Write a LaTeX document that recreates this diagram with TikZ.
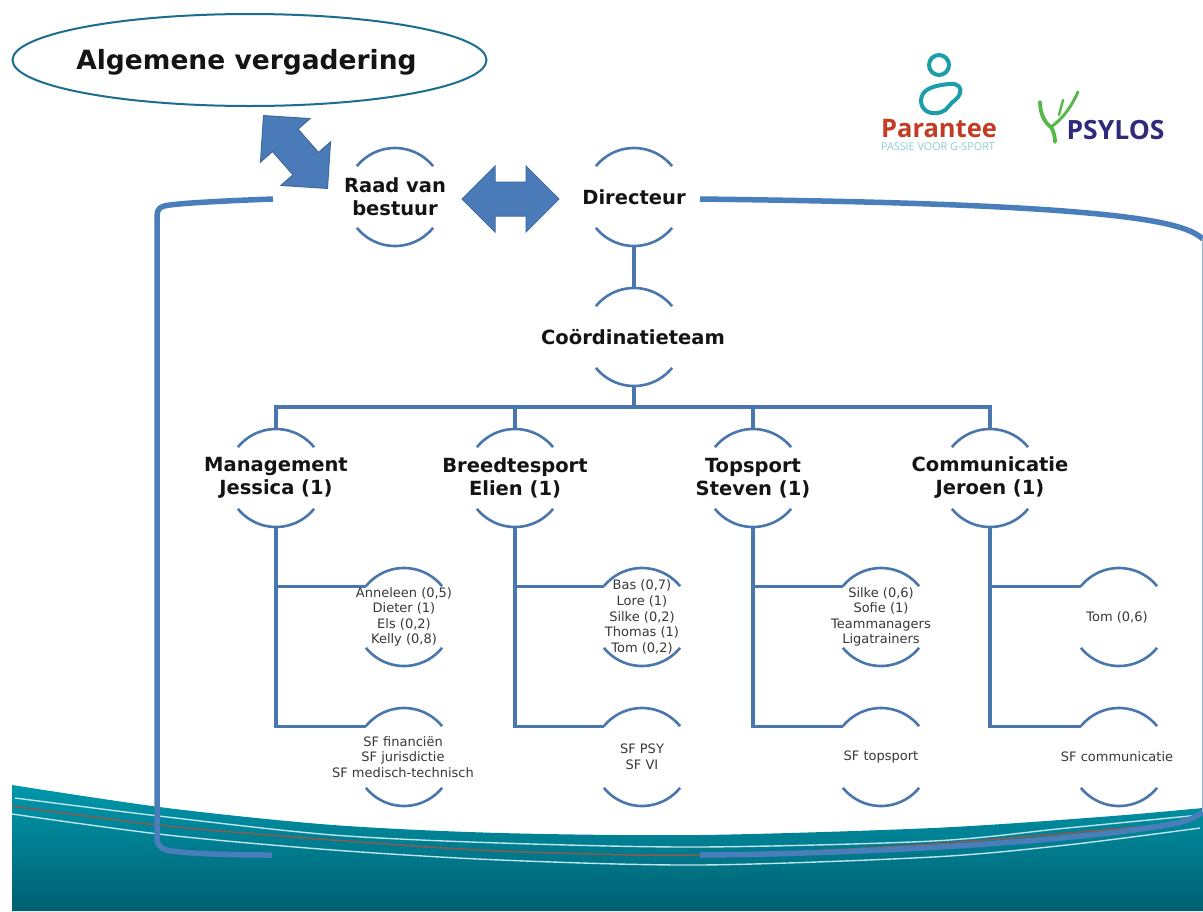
\documentclass[tikz,border=0pt]{standalone}
\usepackage{fontspec}
\setmainfont{DejaVu Sans}
\newfontfamily\logofont{Open Sans}
\usetikzlibrary{shapes.geometric,shapes.arrows,calc}
\definecolor{orgblue}{HTML}{4A76AE}
\definecolor{thickblue}{HTML}{4A7EBB}
\definecolor{arrowblue}{HTML}{4A7BB8}
\definecolor{arrowedge}{HTML}{3F6A9C}
\definecolor{ellipseedge}{HTML}{1B6E8E}
\definecolor{wavetop}{HTML}{0098AC}
\definecolor{wavebottom}{HTML}{005F70}
\definecolor{wavebrown}{HTML}{8A5A50}
\definecolor{leaftext}{HTML}{383838}
\definecolor{logoteal}{HTML}{1B9DAA}
\definecolor{logored}{HTML}{C23B22}
\definecolor{logolight}{HTML}{8CCDD3}
\definecolor{logogreen}{HTML}{55B848}
\definecolor{logonavy}{HTML}{2F2A7C}
\tikzset{
  x=1pt,y=1pt,
  ringbase/.style={circle,minimum size=98pt,inner sep=0pt,outer sep=0pt},
  headtext/.style={font=\fontsize{19.5}{23}\selectfont\bfseries,align=center,inner sep=0pt,text=black!92},
  leaftxt/.style={font=\fontsize{13}{15.6}\selectfont,align=center,inner sep=0pt,text=leaftext},
  ringarc/.style={draw=orgblue,line width=2.6pt},
  link/.style={draw=orgblue,line width=3.2pt},
  fatarrow/.style={double arrow,draw=arrowedge,line width=1pt,fill=arrowblue,
    minimum height=97pt,minimum width=65pt,inner sep=16.5pt,
    double arrow head extend=16pt,double arrow head indent=0pt},
  thickline/.style={draw=thickblue,line width=5.5pt},
  waveline/.style={draw=white!75!wavetop,line width=1.4pt},
}
% name, position, text style, text x-offset, text
\newcommand{\orgunit}[5]{%
  \node[ringbase] (#1) at (#2) {};
  \node[#3] (#1-text) at ($(#1)+(#4,0)$) {#5};
  \draw[ringarc] (#1.141) arc[start angle=141,end angle=39,radius=49pt];
  \draw[ringarc] (#1.-141) arc[start angle=-141,end angle=-39,radius=49pt];
}
\begin{document}
\begin{tikzpicture}
\useasboundingbox (0,0) rectangle (1203,-911);
\fill[white] (0,0) rectangle (1203,-911);
% wave
\shade[top color=wavetop,bottom color=wavebottom]
  plot[smooth,tension=.5] coordinates {(12,-785) (167,-808) (333,-825) (500,-833) (700,-835) (933,-828) (1100,-817) (1203,-808)}
  -- (1203,-911) -- (12,-911) -- cycle;
\draw[waveline] plot[smooth,tension=.5] coordinates {(15,-798) (167,-817) (333,-835) (500,-843) (700,-847) (933,-841) (1067,-828) (1200,-815)};
\draw[wavebrown,line width=1.5pt] plot[smooth,tension=.5] coordinates {(12,-806) (167,-826) (333,-840) (500,-851) (700,-855) (933,-844) (1170,-824)};
\draw[waveline] plot[smooth,tension=.5] coordinates {(12,-814) (167,-835) (333,-850) (500,-860) (700,-865) (933,-857) (1067,-845) (1200,-828)};
% outer thick lines
\draw[thickline] (273,-199) .. controls (220,-201) and (185,-203) .. (170,-205)
  .. controls (160,-206) and (157,-209) .. (157,-216) -- (157,-838)
  .. controls (157,-847) and (163,-850) .. (172,-851) .. controls (195,-854) and (235,-855) .. (272,-855);
\draw[thickline] (700,-199) .. controls (850,-201) and (1100,-205) .. (1175,-226)
  .. controls (1190,-230) and (1197,-234) .. (1203,-239);
\draw[thickline] (700,-855) .. controls (850,-854) and (1060,-843) .. (1167,-825)
  .. controls (1185,-822) and (1197,-817) .. (1203,-812);
\draw[draw=thickblue!60,line width=1pt] (1202.5,-238) -- (1202.5,-812);
% top ellipse
\node[ellipse,draw=ellipseedge,line width=2pt,minimum width=474pt,minimum height=92pt,inner sep=0pt] (av) at (249.5,-60) {};
\node[font=\fontsize{26.5}{30}\selectfont\bfseries,text=black!92,inner sep=0pt] (av-text) at (246.5,-62) {Algemene vergadering};
% main units
\orgunit{raad}{395,-197}{headtext}{0}{Raad van\\bestuur}
\orgunit{dir}{634,-197}{headtext}{0}{Directeur}
\orgunit{coord}{634,-337}{headtext}{-1}{Coördinatieteam}
\orgunit{mgmt}{276,-478}{headtext}{0}{Management\\Jessica (1)}
\orgunit{breed}{515,-478}{headtext}{0}{Breedtesport\\Elien (1)}
\orgunit{top}{753,-478}{headtext}{0}{Topsport\\Steven (1)}
\orgunit{comm}{990,-478}{headtext}{0}{Communicatie\\Jeroen (1)}
% leaf units
\orgunit{ma}{404,-617}{leaftxt}{0}{Anneleen (0,5)\\Dieter (1)\\Els (0,2)\\Kelly (0,8)}
\orgunit{mb}{404,-757}{leaftxt}{-1}{SF financiën\\SF jurisdictie\\SF medisch-technisch}
\orgunit{ba}{642,-617}{leaftxt}{0}{Bas (0,7)\\Lore (1)\\Silke (0,2)\\Thomas (1)\\Tom (0,2)}
\orgunit{bb}{642,-757}{leaftxt}{0}{SF PSY\\SF VI}
\orgunit{ta}{881,-617}{leaftxt}{0}{Silke (0,6)\\Sofie (1)\\Teammanagers\\Ligatrainers}
\orgunit{tb}{881,-757}{leaftxt}{0}{SF topsport}
\orgunit{ca}{1119,-617}{leaftxt}{-2}{Tom (0,6)}
\orgunit{cb}{1119,-757}{leaftxt}{-2}{SF communicatie}
% connectors
\coordinate (bus) at (634,-407);
\draw[link] (dir.south) -- (coord.north);
\draw[link] (coord.south) -- (bus);
\draw[link] (mgmt.north) -- (mgmt.north |- bus) -- (comm.north |- bus) -- (comm.north);
\draw[link] (breed.north) -- (breed.north |- bus);
\draw[link] (top.north) -- (top.north |- bus);
\draw[link] (mgmt.south) -- (mgmt.south |- mb.141) -- (mb.141);
\draw[link] (mgmt.south |- ma.141) -- (ma.141);
\draw[link] (breed.south) -- (breed.south |- bb.141) -- (bb.141);
\draw[link] (breed.south |- ba.141) -- (ba.141);
\draw[link] (top.south) -- (top.south |- tb.141) -- (tb.141);
\draw[link] (top.south |- ta.141) -- (ta.141);
\draw[link] (comm.south) -- (comm.south |- cb.141) -- (cb.141);
\draw[link] (comm.south |- ca.141) -- (ca.141);
% fat arrows
\node[fatarrow] (arrowH) at (510.5,-199) {};
\node[fatarrow,rotate=-48.7] (arrowD) at (295.5,-152) {};
% logos
\draw[logoteal,line width=4pt] (939,-65) circle[radius=10pt];
\draw[logoteal,line width=4pt] (950,-84) .. controls (958,-83) and (962,-88) .. (960,-93)
  .. controls (958,-100) and (952,-101) .. (949,-106)
  .. controls (945,-112) and (938,-114) .. (932,-113)
  .. controls (923,-112) and (919,-103) .. (922,-96)
  .. controls (924,-89) and (935,-85) .. (950,-84) -- cycle;
\node[font=\logofont\fontsize{25.5}{28}\selectfont\bfseries,text=logored,inner sep=0pt] (par) at (939,-129) {Parantee};
\node[font=\logofont\fontsize{10.8}{12}\selectfont,text=logolight,inner sep=0pt] (pas) at (938,-147) {PASSIE VOOR G-SPORT};
\draw[logogreen,line width=3.8pt,line cap=round] (1040,-102) .. controls (1040,-115) and (1046,-124) .. (1051,-127) .. controls (1054,-132) and (1055,-137) .. (1055,-142);
\draw[logogreen,line width=3pt,line cap=round] (1078,-92) .. controls (1072,-105) and (1064,-118) .. (1051,-127);
\draw[logogreen,line width=2.4pt,line cap=round] (1063,-100) -- (1059,-115);
\node[font=\logofont\fontsize{26.5}{28}\selectfont\bfseries,text=logonavy,inner sep=0pt] (psy) at (1115.5,-130) {PSYLOS};
\end{tikzpicture}
\end{document}
